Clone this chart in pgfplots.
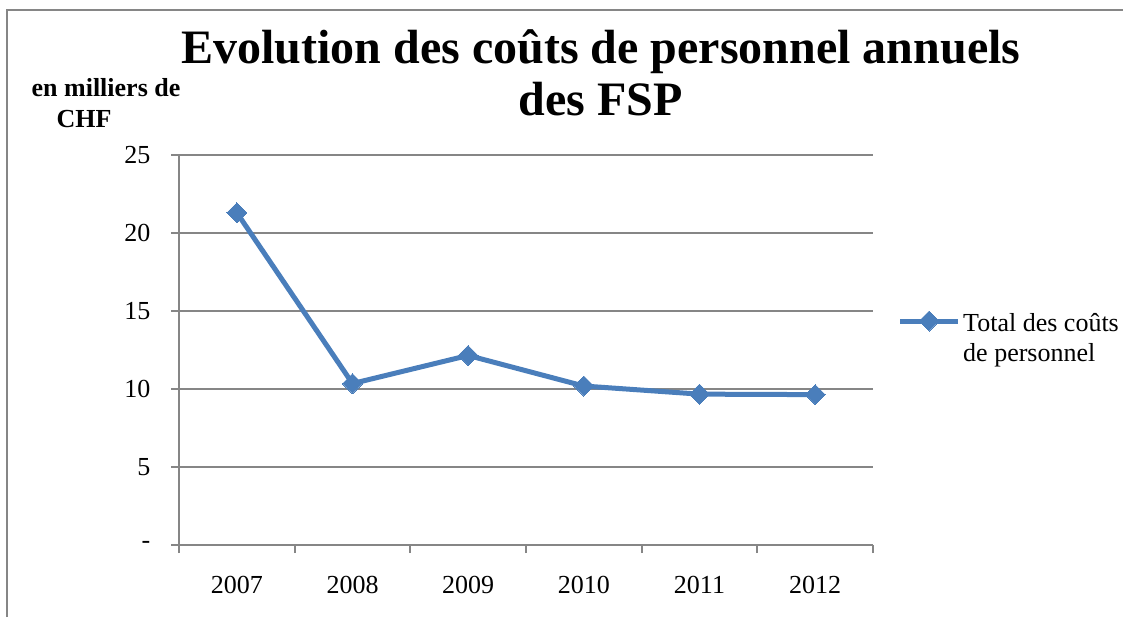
\documentclass[border=0pt]{standalone}
\usepackage{pgfplots}
\pgfplotsset{compat=1.18}
\usepackage{fontspec}
\setmainfont{Liberation Serif}
\definecolor{exblue}{RGB}{74,126,187}
\definecolor{exgray}{RGB}{134,134,134}
\begin{document}
\begin{tikzpicture}
\path[use as bounding box] (0,0) rectangle (842.25pt,462.75pt);
\draw[exgray, line width=1.5pt] (5.25pt,0pt) -- (5.25pt,455.25pt) -- (842.25pt,455.25pt);
\node[font=\bfseries\fontsize{36}{39}\selectfont, align=center] at (450.75pt,408.5pt) {Evolution des coûts de personnel annuels\\des FSP};
\node[font=\bfseries\fontsize{19.5}{23}\selectfont] at (79.5pt,396.75pt) {en milliers de};
\node[font=\bfseries\fontsize{19.5}{23}\selectfont] at (63pt,373.5pt) {CHF};
\begin{axis}[
  at={(134.25pt,54pt)}, anchor=south west,
  scale only axis, width=520.5pt, height=292.5pt,
  xmin=0, xmax=6, ymin=0, ymax=25,
  axis x line*=bottom, axis y line*=left,
  axis line style={exgray, line width=1.4pt, -},
  xtick={0,...,6}, xticklabels={2007,2008,2009,2010,2011,2012},
  x tick label as interval,
  ytick={0,5,...,25}, yticklabels={-,5,10,15,20,25},
  tick align=outside, major tick length=6pt,
  tick style={exgray, line width=1.4pt},
  ymajorgrids, grid style={exgray, line width=1.4pt},
  ticklabel style={font=\fontsize{19.5}{23}\selectfont},
  /pgf/number format/assume math mode=true,
  xticklabel style={yshift=-14pt},
  yticklabel style={xshift=-12pt},
  legend style={draw=none, fill=none, at={(1.035,0.613)}, anchor=north west,
    font=\fontsize{19.5}{24}\selectfont,
    inner sep=0pt},
  legend cell align=left,
  legend image code/.code={\draw[mark repeat=2,mark phase=2,#1] plot coordinates {(0pt,0pt) (21.75pt,0pt) (43.5pt,0pt)};},
  clip=false,
]
\addplot[exblue, line width=3.75pt, mark=square*, mark size=5.3pt,
  mark options={rotate=45, solid, line width=0pt, fill=exblue}]
  coordinates {(0.5,21.30) (1.5,10.35) (2.5,12.15) (3.5,10.19) (4.5,9.67) (5.5,9.64)};
\addlegendentry{\begin{tabular}[t]{@{}l@{}}Total des coûts\\[-1pt]de personnel\end{tabular}}
\end{axis}
\end{tikzpicture}
\end{document}
